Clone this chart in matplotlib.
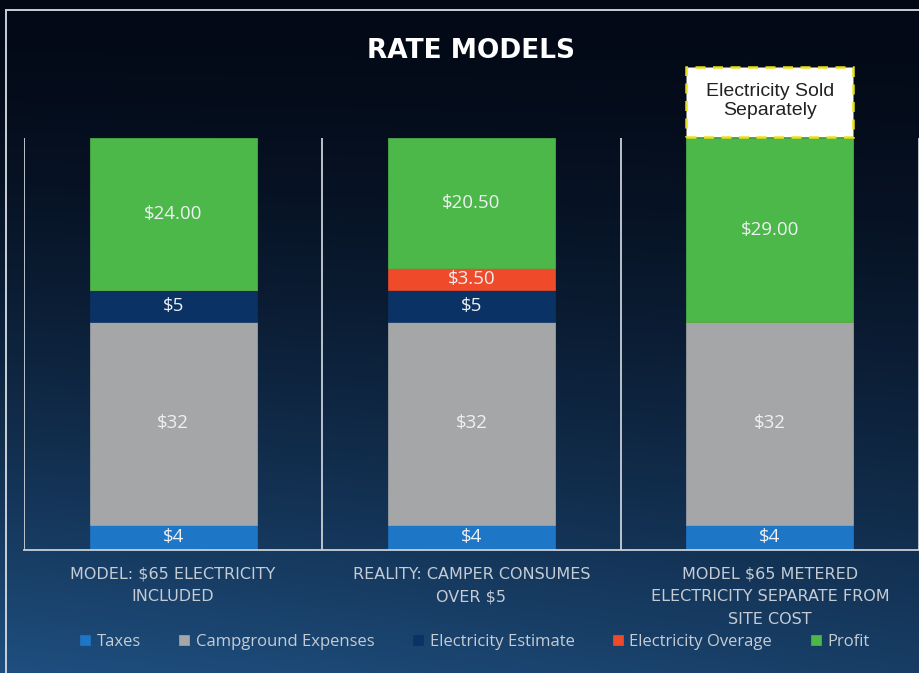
import numpy as np
import matplotlib
matplotlib.use("Agg")
import matplotlib.pyplot as plt
from matplotlib.patches import Rectangle

plt.rcParams['text.parse_math'] = False

categories = ["MODEL: $65 ELECTRICITY\nINCLUDED",
              "REALITY: CAMPER CONSUMES\nOVER $5",
              "MODEL $65 METERED\nELECTRICITY SEPARATE FROM\nSITE COST"]
taxes = [4, 4, 4]
campground = [32, 32, 32]
elec_estimate = [5, 5, 0]
elec_overage = [0, 3.5, 0]
profit = [24, 20.5, 29]

series = [
    ("Taxes", taxes, "#1e76c6", "${:g}"),
    ("Campground Expenses", campground, "#a4a6a8", "${:g}"),
    ("Electricity Estimate", elec_estimate, "#0b3265", "${:g}"),
    ("Electricity Overage", elec_overage, "#ef4a2a", "${:.2f}"),
    ("Profit", profit, "#4db84a", "${:.2f}"),
]

fig = plt.figure(figsize=(9.2, 6.73), dpi=100)

# dark night-sky background
bg = fig.add_axes([0, 0, 1, 1], zorder=-10)
yy, xx = np.mgrid[0:1:300j, 0:1:300j]
t = np.clip(yy ** 1.5 * (1.0 - 0.25 * xx), 0, 1)
top = np.array([0.012, 0.035, 0.085])
bot = np.array([0.12, 0.31, 0.50])
img = top + (bot - top) * t[..., None]
bg.imshow(img, origin="upper", aspect="auto", extent=[0, 1, 0, 1])
bg.axis("off")
fig.patches.append(Rectangle((6 / 920, -0.1), 1.1, 1 - 10 / 673 + 0.1,
                             transform=fig.transFigure, fill=False,
                             edgecolor="#c9d0d8", linewidth=1.4))

ax = fig.add_axes([24 / 920, 1 - 550 / 673, 895 / 920, 412 / 673])
ax.set_facecolor("none")
x = np.arange(len(categories))
width = 0.56
bottom = np.zeros(len(categories))
for name, vals, color, fmt in series:
    vals = np.array(vals, dtype=float)
    bars = ax.bar(x, vals, width, bottom=bottom, color=color,
                  edgecolor=color, linewidth=0.5, label=name)
    for b, v, b0 in zip(bars, vals, bottom):
        if v > 0:
            ax.text(b.get_x() + b.get_width() / 2, b0 + v / 2, fmt.format(v),
                    ha="center", va="center", color="#eef0f2",
                    fontsize=13.5, family="Open Sans")
    bottom += vals

ax.set_xlim(-0.5, 2.5)
ax.set_ylim(0, 65)
for s in ["top", "right", "left"]:
    ax.spines[s].set_visible(False)
ax.spines["bottom"].set_color("#c9d0d8")
ax.spines["bottom"].set_linewidth(1.3)
for xv in [-0.5, 0.5, 1.5, 2.5]:
    ax.axvline(xv, color="#c9d0d8", linewidth=1.3)
ax.set_yticks([])
ax.set_xticks(x)
ax.set_xticklabels(categories, color="#c5ccd4", fontsize=11.5,
                   family="DejaVu Sans", linespacing=1.65)
ax.tick_params(axis="x", length=0, pad=12)

# callout above the metered bar
ax.add_patch(Rectangle((2 - width / 2, 65.2), width, 11, facecolor="white",
                       edgecolor="#e8e01c", linestyle=(0, (4, 3)),
                       linewidth=1.8, clip_on=False))
ax.text(2, 65.2 + 5.6, "Electricity Sold\nSeparately", ha="center",
        va="center", fontsize=14, color="#222222", family="Liberation Sans",
        linespacing=1.15, clip_on=False)

fig.text(0.512, 1 - 51 / 673, "RATE MODELS", ha="center", va="center",
         color="white", fontsize=19, fontweight="bold", family="DejaVu Sans")

leg = fig.legend(loc="center", bbox_to_anchor=(0.516, 1 - 642 / 673),
                 ncol=5, frameon=False, handlelength=0.6,
                 handleheight=0.6, handletextpad=0.4, columnspacing=2.3,
                 prop={"family": "Open Sans", "size": 12})
for txt in leg.get_texts():
    txt.set_color("#c5ccd4")

fig.savefig("out.png", dpi=100)
